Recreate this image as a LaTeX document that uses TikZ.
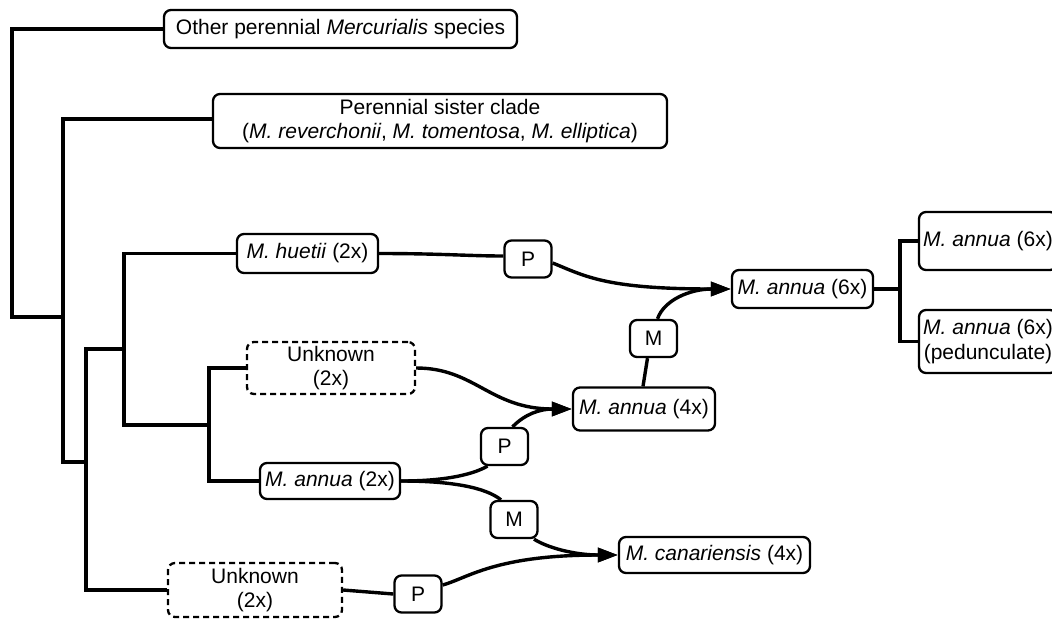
\documentclass[tikz,border=0pt]{standalone}
\usepackage{fontspec}
\setmainfont{Liberation Sans}
\usetikzlibrary{arrows.meta,calc}
\begin{document}
\begin{tikzpicture}[x=1pt,y=-1pt,
  font=\fontsize{21}{24.5}\selectfont,
  box/.style={draw, line width=2.3pt, rounded corners=7pt, fill=white, inner sep=0pt, align=center},
  unknownbox/.style={box, dash pattern=on 6pt off 4pt},
  tag/.style={box, minimum width=47pt, minimum height=37pt},
  tree/.style={line width=3.4pt},
  edge/.style={line width=3.4pt},
  arr/.style={edge, -{Triangle[length=20pt,width=14pt]}}]
\useasboundingbox (0,0) rectangle (1052,619);
\clip (0,0) rectangle (1052,619);

% taxa and hybridisation labels
\node[box, minimum width=353pt, minimum height=38pt] (other) at (340.5,29) {Other perennial \textit{Mercurialis} species};
\node[box, minimum width=454pt, minimum height=54pt] (sister) at (440,121) {Perennial sister clade\\(\textit{M. reverchonii}, \textit{M. tomentosa}, \textit{M. elliptica})};
\node[box, minimum width=141pt, minimum height=39pt] (huetii) at (307.5,253.5) {\textit{M. huetii} (2x)};
\node[tag] (Ptop) at (528,259) {P};
\node[box, minimum width=141pt, minimum height=38pt] (a6) at (802.5,289) {\textit{M. annua} (6x)};
\node[box, minimum width=138pt, minimum height=58pt] (a6top) at (988,241) {\textit{M. annua} (6x)};
\node[box, minimum width=138pt, minimum height=63pt] (a6ped) at (988,341.5) {\textit{M. annua} (6x)\\(pedunculate)};
\node[tag] (Mup) at (653.5,338.5) {M};
\node[unknownbox, minimum width=168pt, minimum height=52pt] (unk1) at (331,368) {Unknown\\(2x)};
\node[box, minimum width=142pt, minimum height=43pt] (a4) at (644,409) {\textit{M. annua} (4x)};
\node[tag] (Pmid) at (504.5,446.5) {P};
\node[box, minimum width=140pt, minimum height=36pt] (a2) at (330,481) {\textit{M. annua} (2x)};
\node[tag] (Mlow) at (514,519.5) {M};
\node[box, minimum width=191pt, minimum height=36pt] (can) at (714.5,555) {\textit{M. canariensis} (4x)};
\node[unknownbox, minimum width=174pt, minimum height=54pt] (unk2) at (255,590) {Unknown\\(2x)};
\node[tag] (Plow) at (418,594) {P};

% internal tree joints
\coordinate (j1) at (12,317);
\coordinate (j2) at (63,317);
\coordinate (j3) at (86,462);
\coordinate (j4) at (124,349);
\coordinate (j5) at (209,425);
\coordinate (j6) at (900,289);

% cladogram
\draw[tree] (other.west) -| (j1) -- (j2);
\draw[tree] ($(sister.west)+(0,-2)$) -| (j2) |- (j3);
\draw[tree] (j4) -| (j3) |- (unk2.west);
\draw[tree] (huetii.west) -| (j4) |- (j5);
\draw[tree] (unk1.west) -| (j5) |- (a2.west);
\draw[tree] (a6.east) -- (j6);
\draw[tree] (a6top.west) -| (j6) |- (a6ped.west);

% polyploidisation / hybridisation edges
\draw[edge] (huetii.east) .. controls (440,253.5) and (470,256) .. ($(Ptop.west)+(0,-3)$);
\draw[arr] ($(Ptop.east)+(0,4)$) .. controls (585,276) and (605,289) .. (a6.west);
\draw[edge] ($(a4.north)+(-1,0)$) -- ($(Mup.south)+(-6,0)$);
\draw[arr] ($(Mup.north)+(4,0)$) .. controls (664,300) and (690,289) .. (a6.west);
\draw[arr] (unk1.east) .. controls (475,368) and (490,409) .. (a4.west);
\draw[edge] (a2.east) .. controls (440,481) and (470,476) .. ($(Pmid.south)+(-17,0)$);
\draw[arr] ($(Pmid.north)+(8,0)$) .. controls (525,414) and (540,409) .. (a4.west);
\draw[edge] (a2.east) .. controls (450,481) and (485,487) .. ($(Mlow.north)+(-13,0)$);
\draw[arr] ($(Mlow.south)+(20,0)$) .. controls (548,548) and (575,555) .. (can.west);
\draw[edge] (unk2.east) -- (Plow.west);
\draw[arr] ($(Plow.east)+(0,-9)$) .. controls (468,578) and (495,555) .. (can.west);
\end{tikzpicture}
\end{document}
